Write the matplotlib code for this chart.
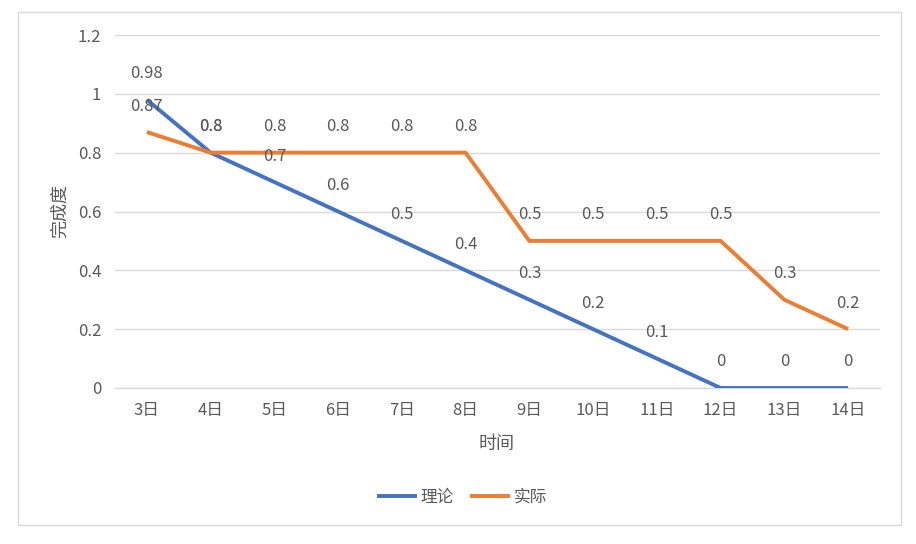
import matplotlib
matplotlib.use("Agg")
import matplotlib.pyplot as plt
from matplotlib.patches import Rectangle

plt.rcParams['font.family'] = ['Noto Sans CJK SC', 'DejaVu Sans']

categories = ["3日", "4日", "5日", "6日", "7日", "8日", "9日", "10日", "11日", "12日", "13日", "14日"]
theory = [0.98, 0.8, 0.7, 0.6, 0.5, 0.4, 0.3, 0.2, 0.1, 0, 0, 0]
actual = [0.87, 0.8, 0.8, 0.8, 0.8, 0.8, 0.5, 0.5, 0.5, 0.5, 0.3, 0.2]
yticks = [0, 0.2, 0.4, 0.6, 0.8, 1.0, 1.2]
ytick_labels = ["0", "0.2", "0.4", "0.6", "0.8", "1", "1.2"]

W, H = 916, 544
fig = plt.figure(figsize=(W / 100, H / 100), dpi=100)
ax = fig.add_axes([115 / W, 1 - 388 / H, (880 - 115) / W, (388 - 35) / H])

txt = "#595959"
blue = "#4472C4"
orange = "#ED7D31"

x = list(range(len(categories)))
ax.plot(x, theory, color=blue, lw=2.8, solid_capstyle='butt', label="理论", zorder=3)
ax.plot(x, actual, color=orange, lw=2.8, solid_capstyle='butt', label="实际", zorder=3)

def fmt(v):
    return f"{v:g}"

for xi, v in zip(x, theory):
    ax.annotate(fmt(v), (xi, v), xytext=(0, 26), textcoords='offset pixels',
                ha='center', va='center', fontsize=12, color=txt)
for xi, v in zip(x, actual):
    ax.annotate(fmt(v), (xi, v), xytext=(0, 26), textcoords='offset pixels',
                ha='center', va='center', fontsize=12, color=txt)

ax.set_xlim(-0.5, len(categories) - 0.5)
ax.set_ylim(0, 1.2)
ax.set_yticks(yticks)
ax.set_yticklabels(ytick_labels)
ax.set_xticks(x)
ax.set_xticklabels(categories)
ax.tick_params(axis='both', length=0, labelsize=12, colors=txt)
ax.tick_params(axis='y', pad=10)
ax.tick_params(axis='x', pad=10)
ax.grid(axis='y', color="#d9d9d9", lw=1)
ax.set_axisbelow(True)
for s in ['top', 'right', 'left']:
    ax.spines[s].set_visible(False)
ax.spines['bottom'].set_color("#d9d9d9")
ax.spines['bottom'].set_linewidth(1)

fig.text(60 / W, 1 - 211 / H, "完成度", rotation=90, ha='center', va='center', fontsize=13, color=txt)
fig.text(497 / W, 1 - 444 / H, "时间", ha='center', va='center', fontsize=13, color=txt)

leg = fig.legend(loc='center', bbox_to_anchor=(462 / W, 1 - 497 / H), ncol=2, frameon=False,
                 fontsize=12, handlelength=2.4, handletextpad=0.2, columnspacing=1.0)
for t in leg.get_texts():
    t.set_color(txt)

fig.patches.append(Rectangle((18 / W, 1 - 525 / H), (901 - 18) / W, (525 - 12) / H,
                             transform=fig.transFigure, fill=False, edgecolor="#d9d9d9", lw=1))

fig.savefig("out.png", dpi=100)
